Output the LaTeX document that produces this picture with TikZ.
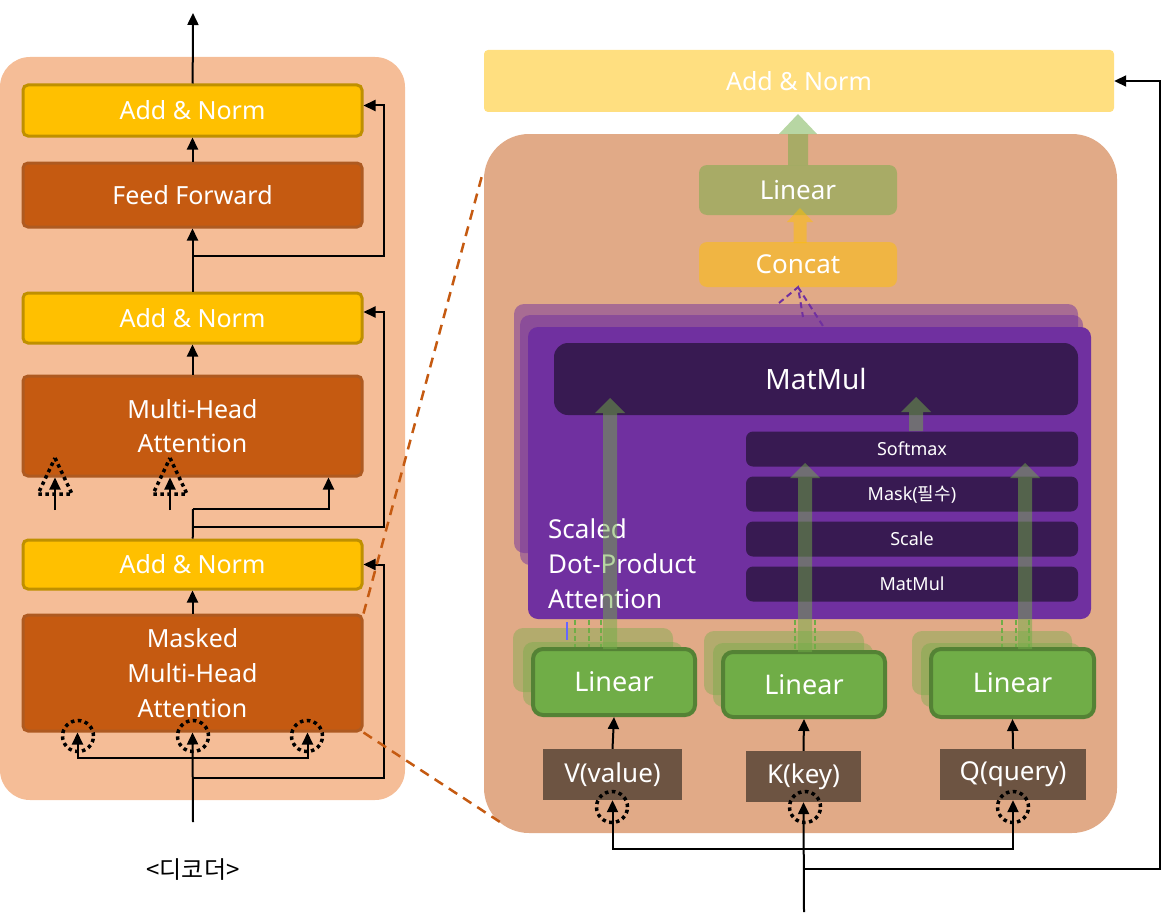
\documentclass[tikz,border=0pt]{standalone}
\usepackage{fontspec}
\setmainfont{Noto Sans}
\newfontfamily\kofont{Noto Sans CJK KR}
\usetikzlibrary{arrows.meta}
\definecolor{decbg}{HTML}{F5BD97}
\definecolor{anfill}{HTML}{FFC000}
\definecolor{anline}{HTML}{BF9000}
\definecolor{fffill}{HTML}{C55A11}
\definecolor{ffline}{HTML}{AE5A21}
\definecolor{zoombg}{HTML}{E1AA87}
\definecolor{lgreen}{HTML}{70AD47}
\definecolor{lgline}{HTML}{548235}
\definecolor{purp}{HTML}{7030A0}
\definecolor{dpurp}{HTML}{381A52}
\definecolor{vkq}{HTML}{6D5442}
% filled arrow: x, y from, y to, half shaft, half head, head length, style
\newcommand{\fatarrow}[7]{%
  \fill[#7] (#1-#4,#2) -- (#1-#4,#3+#6) -- (#1-#5,#3+#6) -- (#1,#3)
    -- (#1+#5,#3+#6) -- (#1+#4,#3+#6) -- (#1+#4,#2) -- cycle;}
\begin{document}
\begin{tikzpicture}[x=1pt,y=-1pt]
\tikzstyle{arr}=[line width=2pt,-{Triangle[length=12pt,width=11pt]}]
\tikzstyle{lbox}=[rectangle,rounded corners=5pt,line width=3pt,text=white,inner sep=0pt,
  minimum width=339pt,align=center,font=\fontsize{25}{35}\selectfont]
\tikzstyle{anbox}=[lbox,fill=anfill,draw=anline]
\tikzstyle{ffbox}=[lbox,fill=fffill,draw=ffline]
\tikzstyle{dotcirc}=[circle,draw=black,line width=3.5pt,dash pattern=on 3.5pt off 3.5pt,minimum size=31pt,inner sep=0pt]
\tikzstyle{sub}=[rectangle,rounded corners=7pt,fill=dpurp,text=white,inner sep=0pt,
  minimum width=332pt,minimum height=35pt,font=\fontsize{18}{20}\selectfont]
\tikzstyle{lin}=[rectangle,rounded corners=10pt,fill=lgreen,draw=lgline,line width=4pt,text=white,
  inner sep=0pt,font=\fontsize{27}{30}\selectfont]
\tikzstyle{linsh}=[rectangle,rounded corners=10pt,fill=lgreen,fill opacity=0.4,
  minimum width=160pt,minimum height=64pt]
\tikzstyle{inbox}=[rectangle,fill=vkq,text=white,inner sep=0pt,minimum height=51pt,
  font=\fontsize{26}{30}\selectfont]
\tikzstyle{zoomline}=[draw=fffill,line width=2.5pt,dash pattern=on 10pt off 7pt]
\useasboundingbox (0,0) rectangle (1161,915);

% decoder side
\fill[decbg,rounded corners=30pt] (0,57) rectangle (405,800);
\node[anbox,minimum height=51pt](an1) at (192.5,110.5) {Add \& Norm};
\node[ffbox,minimum height=64pt](ff) at (192.5,195) {Feed Forward};
\node[anbox,minimum height=50pt](an2) at (192.5,318) {Add \& Norm};
\node[ffbox,minimum height=100pt](mha) at (192.5,426) {Multi-Head\\[-1pt]Attention};
\node[anbox,minimum height=49pt](an3) at (192.5,564.5) {Add \& Norm};
\node[ffbox,minimum height=116pt](mmha) at (192.5,673) {Masked\\Multi-Head\\Attention};
\node[font=\kofont\fontsize{24}{28}\selectfont](dec) at (193,870) {<디코더>};

\coordinate (out) at (193,13);
\coordinate (r1) at (193,256);
\coordinate (b2) at (193,509);
\coordinate (b3) at (193,527);
\coordinate (k1) at (55,510);
\coordinate (k2) at (170,510);
\coordinate (b4) at (193,758);
\coordinate (b5) at (193,778);
\coordinate (in) at (193,822);

\draw[arr] (an1) -- (out);
\draw[arr] (ff) -- (an1);
\draw[arr] (an2) -- (ff);
\draw[arr] (r1) -| ([xshift=20pt,yshift=5pt]an1.east) -- ([yshift=5pt]an1.east);
\draw[arr] (mha) -- (an2);
\draw[line width=2pt] (an3) -- (b2);
\draw[arr] (b2) -| ([xshift=136pt]mha.south);
\draw[arr] (b3) -| ([xshift=20pt,yshift=6pt]an2.east) -- ([yshift=6pt]an2.east);
\draw[arr] (k1) -- (k1 |- mha.south);
\draw[arr] (k2) -- (k2 |- mha.south);
\foreach \x in {55,170}
  \draw[line width=3.5pt,dash pattern=on 3.5pt off 3.5pt] (\x,458) -- (\x+17,494) -- (\x-17,494) -- cycle;
\draw[arr] (mmha) -- (an3);
\draw[arr] (b5) -| ([xshift=20pt]an3.east) -- (an3.east);
\draw[arr] (in) -- (mmha.south);
\draw[arr] (b4) -| ([xshift=-115pt]mmha.south);
\draw[arr] (b4) -| ([xshift=115pt]mmha.south);
\node[dotcirc](c1) at (78,736) {};
\node[dotcirc](c2) at (193,736) {};
\node[dotcirc](c3) at (307,736) {};

% zoomed attention block
\node[rectangle,rounded corners=4pt,fill=anfill!50,minimum width=630pt,minimum height=62pt,
  text=white,font=\fontsize{25}{28}\selectfont](anR) at (799,81) {Add \& Norm};
\node[rectangle,rounded corners=45pt,fill=zoombg,minimum width=633pt,minimum height=699pt](bgR) at (800.5,483.5) {};
\draw[zoomline] (mmha.north east) -- (483,172);
\draw[zoomline] (mmha.south east) -- (500,822);

\fatarrow{798}{165}{114}{10}{19}{20}{lgreen,opacity=0.5}
\node[rectangle,rounded corners=8pt,fill=lgreen,fill opacity=0.5,text opacity=1,text=white,
  minimum width=198pt,minimum height=50pt,font=\fontsize{26}{30}\selectfont](linO) at (798,190) {Linear};
\node[rectangle,rounded corners=8pt,fill=anfill,fill opacity=0.5,text opacity=1,text=white,
  minimum width=198pt,minimum height=45pt,font=\fontsize{26}{30}\selectfont](cat) at (798,264.5) {Concat};
\fatarrow{800}{243}{208}{6.5}{13}{14}{anfill,opacity=0.5}

\node[rectangle,rounded corners=10pt,fill=purp,fill opacity=0.5,minimum width=564pt,minimum height=249pt](h3) at (796,428.5) {};
\node[rectangle,rounded corners=10pt,fill=purp,fill opacity=0.5,minimum width=563pt,minimum height=250pt](h2) at (801.5,440) {};
\node[rectangle,rounded corners=10pt,fill=purp,minimum width=563pt,minimum height=292pt](h1) at (809.5,473) {};
\draw[purp,line width=2pt,dash pattern=on 6pt off 4pt] (779,303) -- (cat.south) -- (803,317);
\draw[purp,line width=2pt,dash pattern=on 6pt off 4pt] (cat.south) -- (823,326);

\node[rectangle,rounded corners=14pt,fill=dpurp,text=white,minimum width=524pt,minimum height=72pt,
  font=\fontsize{28}{30}\selectfont](mm) at (816,379) {MatMul};
\node[sub](soft) at (912,449) {Softmax};
\node[sub](mask) at (912,494) {Mask({\kofont 필수})};
\node[sub](scale) at (912,539) {Scale};
\node[sub](mm2) at (912,584) {MatMul};
\node[anchor=west,align=left,text=white,inner sep=0pt,
  font=\fontsize{26}{35}\selectfont](sdpa) at (548,564) {Scaled\\Dot-Product\\Attention};

% input projections
\node[linsh](vs1) at (593,660) {};
\node[linsh](vs2) at (603,674) {};
\node[linsh](ks1) at (784,663) {};
\node[linsh](ks2) at (793,675) {};
\node[linsh](qs1) at (992,663) {};
\node[linsh](qs2) at (1001,675) {};
\draw[blue!60,line width=1.5pt] (567,622) -- (567,640);
\foreach \x in {575,589,601,795,815,1002,1016,1029}
  \draw[lgreen,line width=1.5pt,dash pattern=on 5pt off 3pt] (\x,620) -- (\x,652);
\node[lin,minimum width=162pt,minimum height=66pt](vlin) at (614,682) {Linear};
\node[lin,minimum width=162pt,minimum height=65pt](klin) at (804,684.5) {Linear};
\node[lin,minimum width=163pt,minimum height=68pt](qlin) at (1012.5,683) {Linear};

\fatarrow{610}{649}{398}{7}{15}{15}{lgreen,opacity=0.5}
\fatarrow{805}{652}{463}{7}{15}{15}{lgreen,opacity=0.5}
\fatarrow{1025}{649}{463}{7}{15}{15}{lgreen,opacity=0.5}
\fatarrow{916}{431}{397}{7}{15}{15}{lgreen,opacity=0.5}

\node[inbox,minimum width=139pt](vbox) at (612.5,774.5) {V(value)};
\node[inbox,minimum width=115pt](kbox) at (803.5,776.5) {K(key)};
\node[inbox,minimum width=146pt](qbox) at (1013,774.5) {Q(query)};
\draw[arr] (vbox.north) -- (vlin.south);
\draw[arr] (kbox.north) -- (klin.south);
\draw[arr] (qbox.north) -- (qlin.south);

\coordinate (inR) at (804,912);
\coordinate (b6) at (804,849);
\coordinate (b7) at (804,869);
\draw[arr] (inR) -- (kbox.south);
\draw[arr] (b6) -| (vbox.south);
\draw[arr] (b6) -| (qbox.south);
\draw[arr] (b7) -| ([xshift=46pt]anR.east) -- (anR.east);
\node[dotcirc](cv) at (612,807) {};
\node[dotcirc](ck) at (805,807) {};
\node[dotcirc](cq) at (1013,807) {};
\end{tikzpicture}
\end{document}
